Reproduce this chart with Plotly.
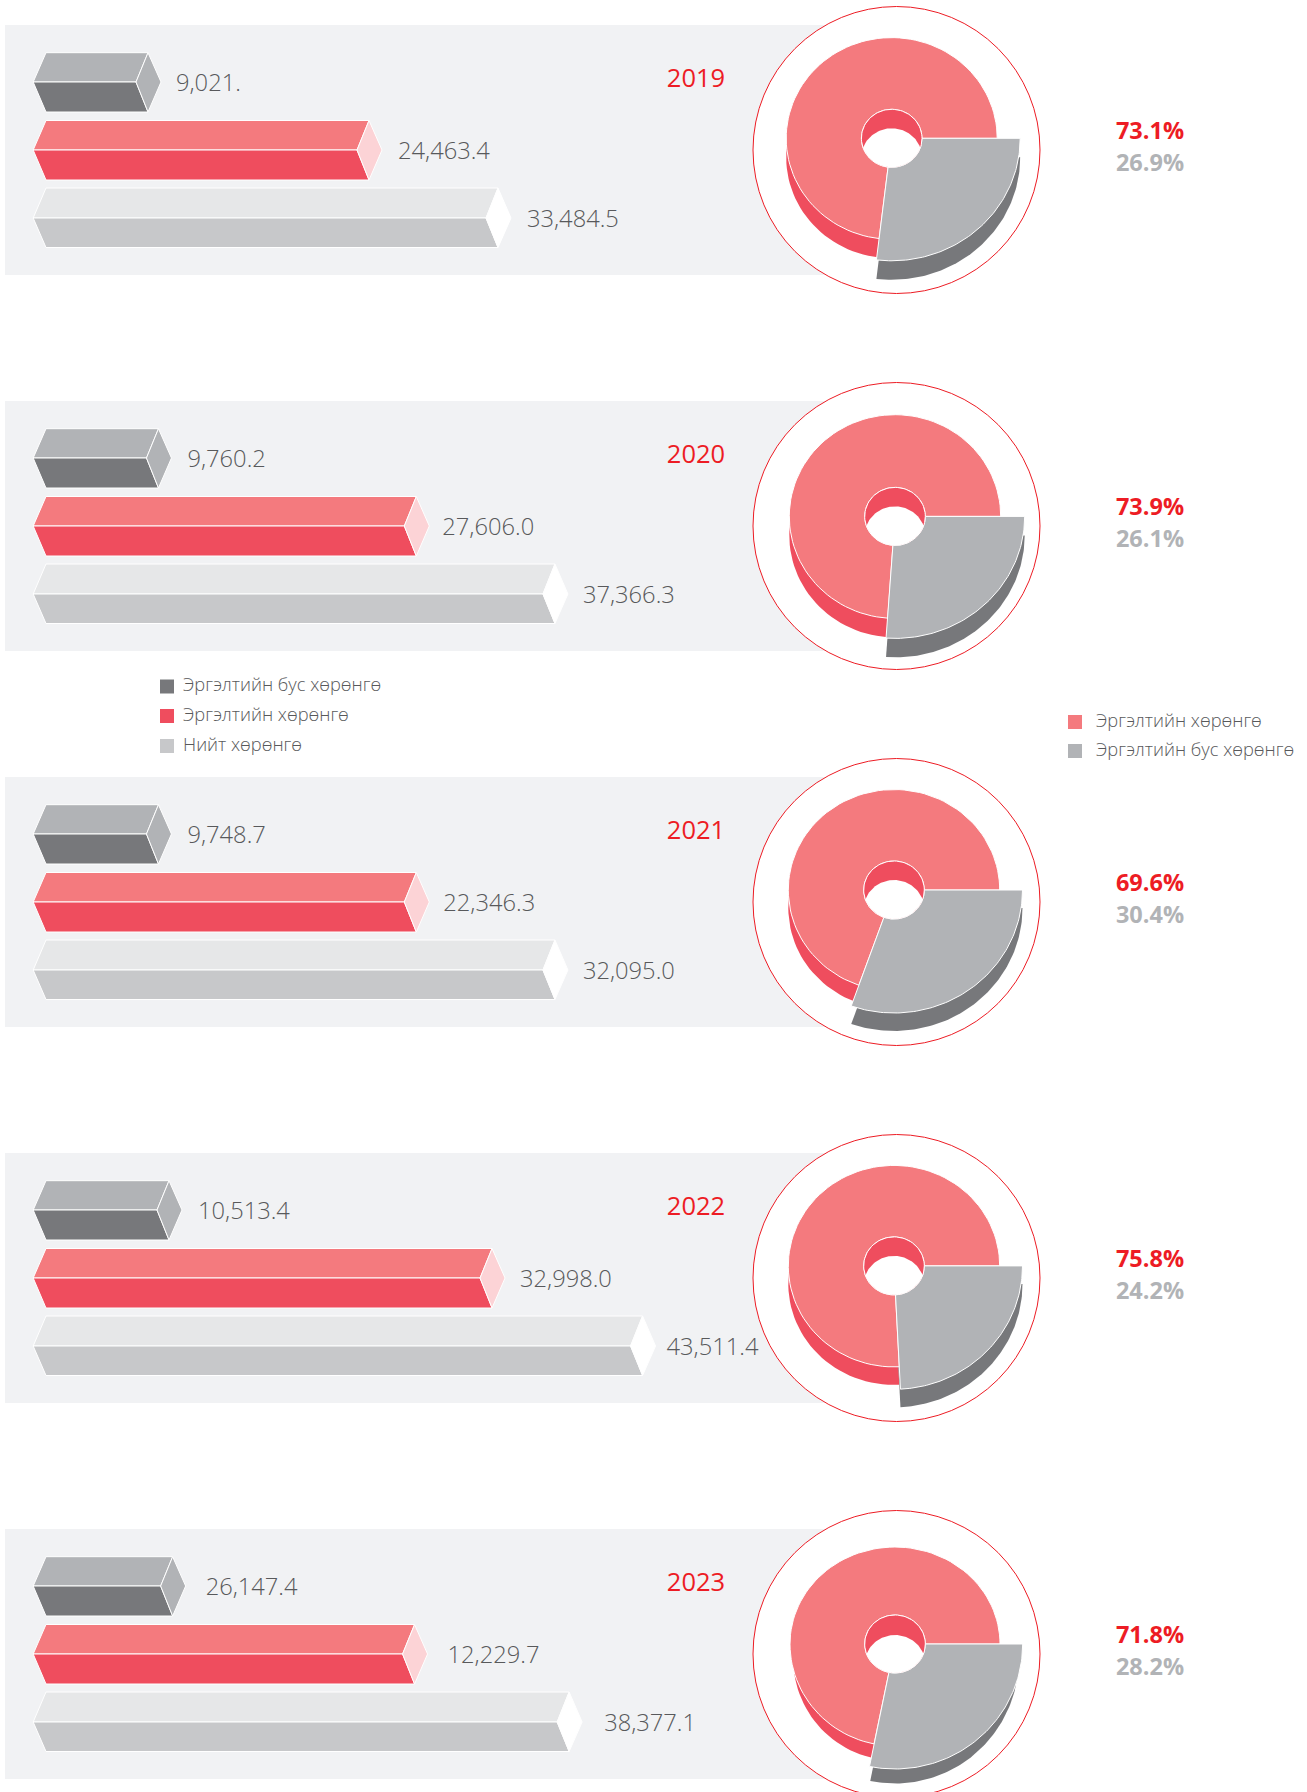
import numpy as np
import plotly.graph_objects as go

# ---------- data ----------
years = ["2019", "2020", "2021", "2022", "2023"]
noncurrent_labels = ["9,021.", "9,760.2", "9,748.7", "10,513.4", "26,147.4"]
current_labels = ["24,463.4", "27,606.0", "22,346.3", "32,998.0", "12,229.7"]
total_labels = ["33,484.5", "37,366.3", "32,095.0", "43,511.4", "38,377.1"]
# bar lengths as actually drawn in the picture (they differ from the printed labels)
noncurrent_drawn = [7556, 8330, 8330, 9111, 9380]
current_drawn = [23926, 27430, 27430, 33040, 27300]
total_drawn = [33481, 37700, 37700, 44190, 38750]
current_share = [73.1, 73.9, 69.6, 75.8, 71.8]
noncurrent_share = [26.9, 26.1, 30.4, 24.2, 28.2]
legend_left = ["Эргэлтийн бус хөрөнгө", "Эргэлтийн хөрөнгө", "Нийт хөрөнгө"]
legend_right = ["Эргэлтийн хөрөнгө", "Эргэлтийн бус хөрөнгө"]

# ---------- layout constants (pixels) ----------
W, H = 1307, 1792
PX_PER_UNIT = 0.0135
BAR_X0 = 46
STEP = 376
PANEL_TOP = [25 + i * STEP for i in range(5)]
label_gaps = [[15, 16, 16], [16, 13, 15], [16, 14, 15], [16, 15, 11], [20, 20, 22]]
pie_cx = [891.7, 895.0, 894.0, 894.0, 895.0]
pie_cy = [138.3, 516.4, 890.0, 1265.9, 1644.0]
red_rx = [105.5, 105.7, 105.7, 105.7, 105]
red_up = [100.7, 101.7, 100.5, 100.5, 97]
red_down = [101, 102, 101, 101, 102]
gray_rx = [128.5, 129.7, 128.5, 128.5, 127.7]
gray_ry = [122.5, 122, 123, 123.4, 125]
wall_d = [19, 19, 18, 18, 14.5]
wall_k = [1.0, 1.0, 1.0, 1.0, 0.97]
hole_d = [19, 19, 19, 19, 20]

C_TXT = "#58595b"
C_RED = "#ed1c24"
C_PANEL = "#f1f2f4"
FONT = "Open Sans"
BAR_STYLES = [
    ("#b1b3b6", "#77787b", "#b1b3b6"),
    ("#f47a7e", "#ef4d5e", "#fcd3d6"),
    ("#e6e7e8", "#c7c8ca", "#ffffff"),
]
BAR_Y = [(52.7, 82, 112), (120.5, 150, 180), (188, 218, 247.5)]

fig = go.Figure()


def poly(xs, ys, fill, xaxis="x", line="#ffffff", lw=1.0):
    fig.add_trace(go.Scatter(x=list(xs), y=list(ys), mode="lines", fill="toself", fillcolor=fill,
                             line=dict(color=line, width=lw), hoverinfo="skip", showlegend=False,
                             xaxis=xaxis, yaxis="y"))


def text(x, y, s, size, color, weight=400, anchor="middle right"):
    fig.add_trace(go.Scatter(x=[x], y=[y], mode="text", text=[s], textposition=anchor,
                             textfont=dict(family=FONT, size=size, color=color, weight=weight),
                             hoverinfo="skip", showlegend=False, xaxis="x", yaxis="y"))


def arc(cx, cy, rx, up, down, a0, a1, n=90):
    t = np.radians(np.linspace(a0, a1, n))
    s = np.sin(t)
    return cx + rx * np.cos(t), cy + np.where(s < 0, up, down) * s


shapes = []
for i in range(5):
    top = PANEL_TOP[i]
    shapes.append(dict(type="rect", xref="x", yref="y", x0=5, x1=840, y0=top, y1=top + 250,
                       fillcolor=C_PANEL, line=dict(width=0), layer="below"))
    cy = top + 125
    shapes.append(dict(type="circle", xref="x", yref="y", x0=753, x1=1040, y0=cy - 143.5, y1=cy + 143.5,
                       fillcolor="#ffffff", line=dict(color=C_RED, width=1), layer="below"))

for i in range(5):
    top = PANEL_TOP[i] - 25
    # ---- bars ----
    drawn = [noncurrent_drawn[i], current_drawn[i], total_drawn[i]]
    labels = [noncurrent_labels[i], current_labels[i], total_labels[i]]
    dx = 12.0 / PX_PER_UNIT
    left = 12.8 / PX_PER_UNIT
    tip = 13 / PX_PER_UNIT
    for j in range(3):
        v = drawn[j]
        yt, ym, yb = [top + q for q in BAR_Y[j]]
        ct, cf, cs = BAR_STYLES[j]
        poly([-left, 0, v, v - dx, -left], [ym, yt, yt, ym, ym], ct, "x2")
        poly([-left, 0, v, v - dx, -left], [ym, yb, yb, ym, ym], cf, "x2")
        poly([v, v + tip, v, v - dx, v], [yt, ym, yb, ym, yt], cs, "x2")
        text(BAR_X0 + v * PX_PER_UNIT + 13 + label_gaps[i][j], ym + 3.5, labels[j], 23.7, C_TXT, 300)

    text(696, top + 81, years[i], 25.5, C_RED, 400, "middle center")

    # ---- 3-D pie ----
    cx, cy = pie_cx[i], pie_cy[i]
    a = noncurrent_share[i] * 3.6
    d, k = wall_d[i], wall_k[i]
    # side walls
    xa, ya = arc(cx, cy + d, red_rx[i] * k, red_down[i] * k, red_down[i], a, 360)
    poly(np.r_[xa, cx], np.r_[ya, cy + d], "#ef4d5e", lw=0)
    xa, ya = arc(cx, cy + d, gray_rx[i] * k, gray_ry[i], gray_ry[i], 0, a)
    poly(np.r_[xa, cx], np.r_[ya, cy + d], "#77787b", lw=0)
    # top faces
    hx, hy = 30.3, 29
    xo, yo = arc(cx, cy, red_rx[i], red_up[i], red_down[i], a, 360)
    xn, yn = arc(cx, cy, hx, hy, hy, 360, a)
    poly(np.r_[xo, xn, xo[0]], np.r_[yo, yn, yo[0]], "#f47a7e")
    xo, yo = arc(cx, cy, gray_rx[i], gray_ry[i], gray_ry[i], 0, a)
    xn, yn = arc(cx, cy, hx, hy, hy, a, 0)
    poly(np.r_[xo, xn, xo[0]], np.r_[yo, yn, yo[0]], "#b1b3b6")
    # hole: inner wall and see-through part
    xh, yh = arc(cx, cy, hx, hy, hy, 0, 360)
    poly(xh, yh, "#ef4d5e")
    h = hole_d[i]
    half = hx * np.sqrt(1 - (h / 2 / hy) ** 2)
    px = np.linspace(-half, half, 60)
    up_y = cy + h - hy * np.sqrt(1 - (px / hx) ** 2)
    lo_y = cy + hy * np.sqrt(1 - (px / hx) ** 2)
    poly(np.r_[cx + px, (cx + px)[::-1], cx + px[0]], np.r_[up_y, lo_y[::-1], up_y[0]], "#ffffff", lw=0)

    # ---- percentages ----
    text(1150, top + 133.5, f"{current_share[i]}%", 23.5, C_RED, 700, "middle center")
    text(1150, top + 165.5, f"{noncurrent_share[i]}%", 23.5, "#b1b3b6", 700, "middle center")

# ---- legends ----
for name, y, col in zip(legend_left, [686.5, 716, 746], ["#77787b", "#ef4d5e", "#c7c8ca"]):
    fig.add_trace(go.Scatter(x=[167], y=[y], mode="markers", marker=dict(symbol="square", size=14, color=col, line=dict(width=0)),
                             hoverinfo="skip", showlegend=False, xaxis="x", yaxis="y"))
    text(183, y, name, 18.3, C_TXT, 300)
for name, y, col in zip(legend_right, [722, 751], ["#f47a7e", "#b1b3b6"]):
    fig.add_trace(go.Scatter(x=[1075], y=[y], mode="markers", marker=dict(symbol="square", size=14, color=col, line=dict(width=0)),
                             hoverinfo="skip", showlegend=False, xaxis="x", yaxis="y"))
    text(1096, y, name, 18.3, C_TXT, 300)

axis = dict(visible=False, fixedrange=True, showgrid=False, zeroline=False)
fig.update_layout(
    width=W, height=H, margin=dict(l=0, r=0, t=0, b=0), autosize=False,
    paper_bgcolor="#ffffff", plot_bgcolor="rgba(0,0,0,0)", showlegend=False, shapes=shapes,
    xaxis=dict(range=[0, W], domain=[0, 1], **axis),
    xaxis2=dict(range=[-BAR_X0 / PX_PER_UNIT, (W - BAR_X0) / PX_PER_UNIT], domain=[0, 1], anchor="y", overlaying="x", **axis),
    yaxis=dict(range=[H, 0], domain=[0, 1], **axis),
)
fig.write_html("out.html", config={"displayModeBar": False},
               post_script="document.body.style.margin='0';document.body.style.overflow='hidden';")
